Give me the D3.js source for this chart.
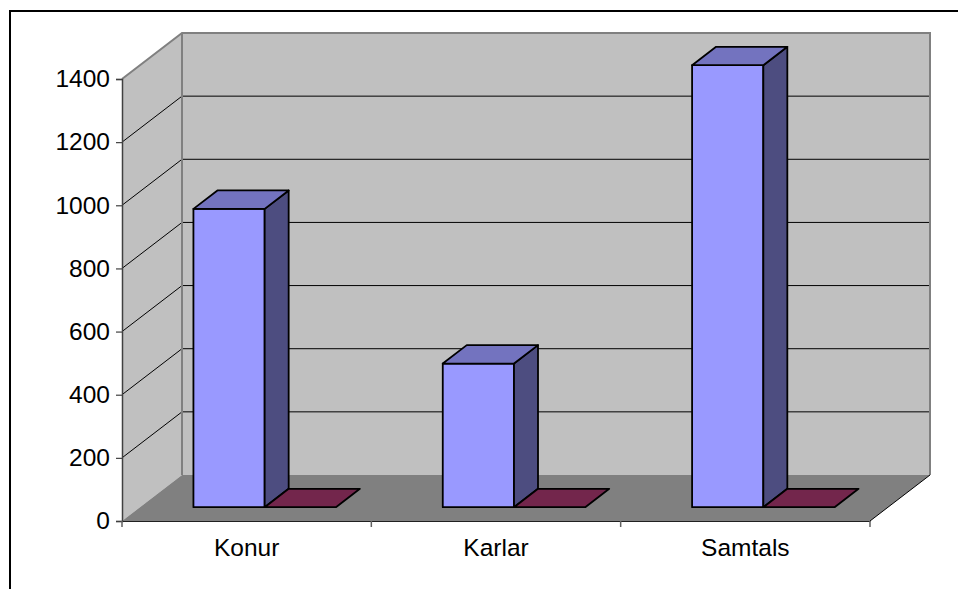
<!DOCTYPE html>
<html>
<head>
<meta charset="utf-8">
<script src="https://cdn.jsdelivr.net/npm/d3@7"></script>
<style>
html,body{margin:0;padding:0;background:#fff;}
svg{display:block;}
text{font-family:"Liberation Sans",Arial,sans-serif;fill:#000;}
</style>
</head>
<body>
<svg id="chart" width="958" height="589"></svg>
<script>
// ---- data ----
const categories = ["Konur", "Karlar", "Samtals"];
const series1 = [945, 455, 1400];
const series2 = [0, 0, 0];
const yTicks = [0, 200, 400, 600, 800, 1000, 1200, 1400];

// ---- layout ----
const svg = d3.select("#chart");
const X0 = 122, X1 = 870;          // front plane x-range
const DX = 60, DY = 46;            // full depth offset
const y = d3.scaleLinear().domain([0, 1400]).range([521, 79]);
const xCat = d3.scaleBand().domain(categories).range([X0, X1]).padding(0);
const xSer = d3.scaleBand().domain(["s1", "s2"]).range([0, xCat.bandwidth()])
  .paddingInner(0).paddingOuter(0.75);

// projection: front-plane x, value, depth z in [0,1]
const P = (x, v, z) => [x + z * DX, y(v) - z * DY];
const poly = pts => "M" + pts.map(p => p.join(",")).join("L") + "Z";

// outer frame
svg.append("rect").attr("x", 10).attr("y", 11).attr("width", 1000).attr("height", 1000)
  .attr("fill", "none").attr("stroke", "#000").attr("stroke-width", 2);

const vMax = 1400;
// side wall
svg.append("path").attr("d", poly([P(X0, 0, 0), P(X0, vMax, 0), P(X0, vMax, 1), P(X0, 0, 1)]))
  .attr("fill", "#c0c0c0").attr("stroke", "none");
// back wall
svg.append("path").attr("d", poly([P(X0, 0, 1), P(X0, vMax, 1), P(X1, vMax, 1), P(X1, 0, 1)]))
  .attr("fill", "#c0c0c0").attr("stroke", "none");
// floor
svg.append("path").attr("d", poly([P(X0, 0, 0), P(X1, 0, 0), P(X1, 0, 1), P(X0, 0, 1)]))
  .attr("fill", "#808080").attr("stroke", "none");

// gridlines
yTicks.filter(v => v > 0 && v < vMax).forEach(v => {
  const a = P(X0, v, 0), b = P(X0, v, 1), c = P(X1, v, 1);
  svg.append("path").attr("d", "M" + a + "L" + b + "L" + c)
    .attr("fill", "none").attr("stroke", "#000").attr("stroke-width", 1);
});

// wall edges (gray)
svg.append("path")
  .attr("d", "M" + P(X0, vMax, 0) + "L" + P(X0, vMax, 1) + "L" + P(X1, vMax, 1) + "L" + P(X1, 0, 1))
  .attr("fill", "none").attr("stroke", "#808080").attr("stroke-width", 2);
svg.append("path")
  .attr("d", "M" + P(X0, vMax, 1) + "L" + P(X0, 0, 1))
  .attr("fill", "none").attr("stroke", "#808080").attr("stroke-width", 2);
// floor right edge
svg.append("path")
  .attr("d", "M" + P(X1, 0, 0) + "L" + P(X1, 0, 1))
  .attr("fill", "none").attr("stroke", "#000").attr("stroke-width", 1);

// bars
const z1 = 0.3, z2 = 0.7;
const colors = {
  s1: {front: "#9999ff", top: "#7373bf", side: "#4d4d80"},
  s2: {front: "#993366", top: "#73264c", side: "#4d1a33"}
};
categories.forEach((cat, i) => {
  [["s1", series1[i]], ["s2", series2[i]]].forEach(([s, v]) => {
    const xl = xCat(cat) + xSer(s), xr = xl + xSer.bandwidth();
    const g = svg.append("g").attr("stroke", "#000").attr("stroke-width", 1.8)
      .attr("stroke-linejoin", "round");
    const c = colors[s];
    if (v > 0) {
      g.append("path").attr("d", poly([P(xl, 0, z1), P(xr, 0, z1), P(xr, v, z1), P(xl, v, z1)]))
        .attr("fill", c.front);
      g.append("path").attr("d", poly([P(xr, 0, z1), P(xr, 0, z2), P(xr, v, z2), P(xr, v, z1)]))
        .attr("fill", c.side);
    }
    g.append("path").attr("d", poly([P(xl, v, z1), P(xr, v, z1), P(xr, v, z2), P(xl, v, z2)]))
      .attr("fill", c.top);
  });
});

// value axis
const yAxisG = svg.append("g").attr("transform", `translate(${X0},0)`)
  .call(d3.axisLeft(y).tickValues(yTicks).tickSize(6).tickPadding(6).tickFormat(d3.format("d")));
yAxisG.select(".domain").attr("stroke", "#404040").attr("stroke-width", 1.5);
yAxisG.selectAll(".tick line").attr("stroke", "#404040").attr("stroke-width", 1.2);
yAxisG.selectAll(".tick text").attr("font-size", 24.5)
  .attr("font-family", "Liberation Sans, Arial, sans-serif").attr("fill", "#000");

// category axis
const xAxisG = svg.append("g").attr("transform", `translate(0,${y(0)})`)
  .call(d3.axisBottom(xCat).tickSize(0).tickPadding(18));
xAxisG.select(".domain").attr("stroke", "#202020").attr("stroke-width", 1);
xAxisG.selectAll(".tick text").attr("font-size", 24.5)
  .attr("font-family", "Liberation Sans, Arial, sans-serif").attr("fill", "#000");
// boundary ticks between categories
const bounds = categories.map(c => xCat(c)).concat([X1]);
xAxisG.selectAll(".bt").data(bounds).join("line").attr("class", "bt")
  .attr("x1", d => d).attr("x2", d => d).attr("y1", 0).attr("y2", 6)
  .attr("stroke", "#606060").attr("stroke-width", 1.5);
</script>
</body>
</html>
